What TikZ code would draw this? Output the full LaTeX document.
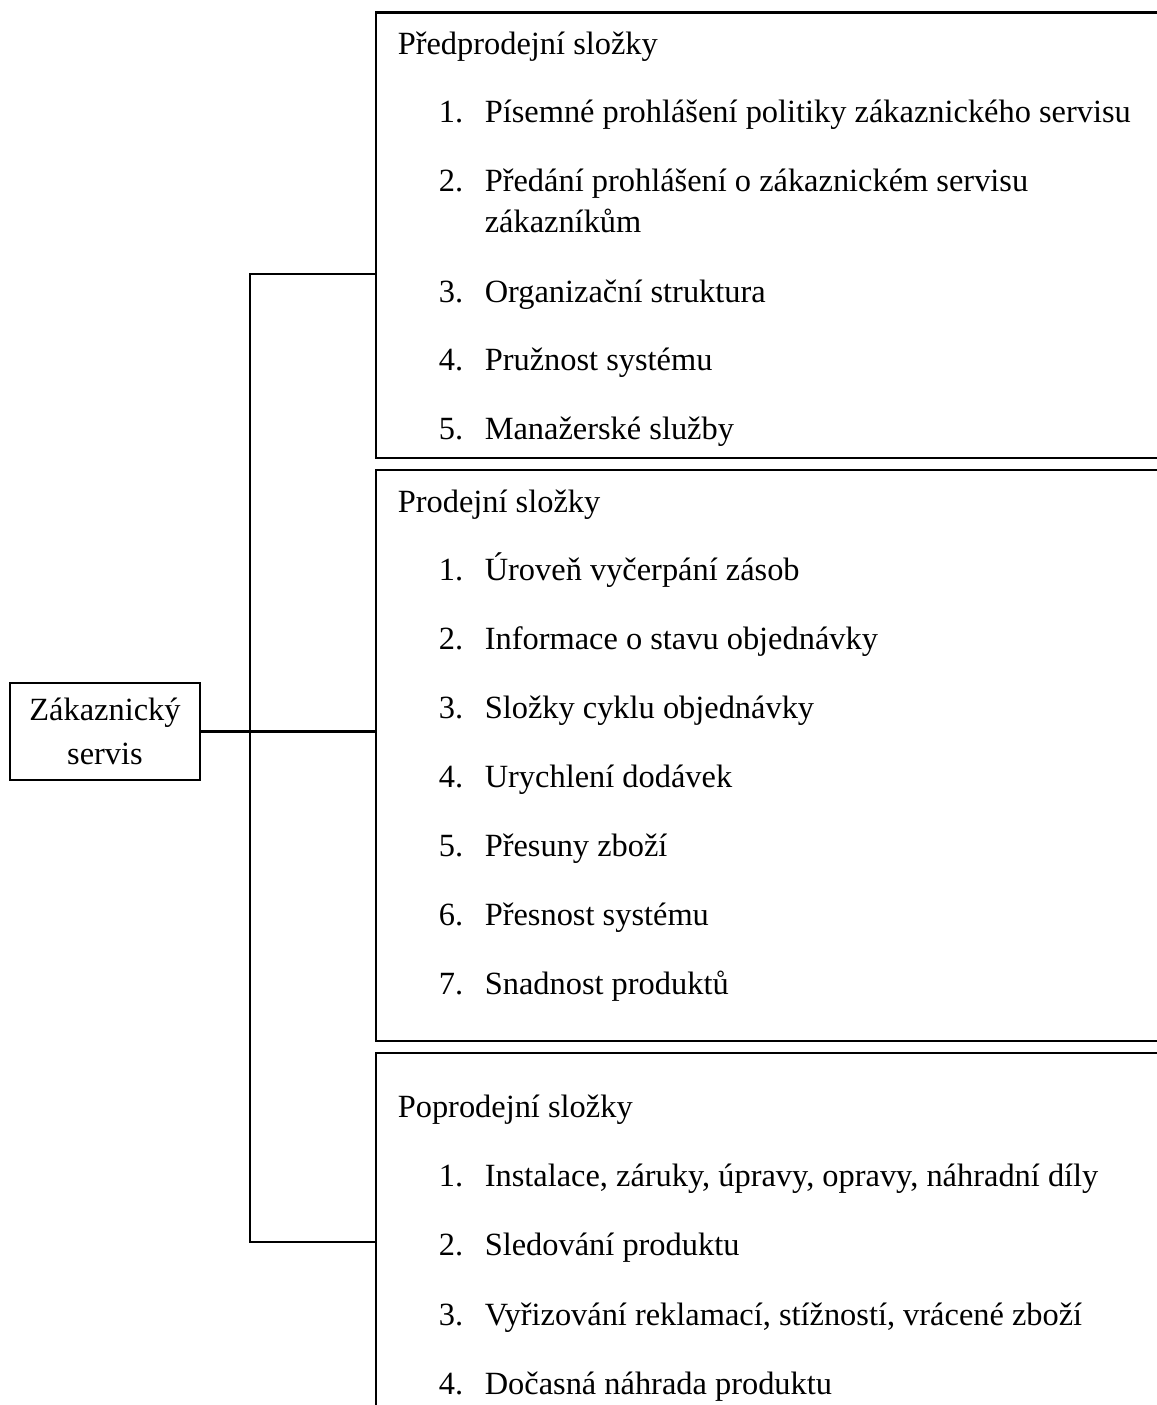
\documentclass[tikz,border=0pt]{standalone}
\usepackage{fontspec}
\setmainfont{Liberation Serif}
\begin{document}
\begin{tikzpicture}[x=0.25pt,y=-0.25pt,
  box/.style={draw, line width=0.6pt, inner sep=0pt},
  conn/.style={line width=0.6pt},
  txt/.style={anchor=base west, inner sep=0pt, font=\fontsize{8.1}{10}\selectfont}]
\useasboundingbox (0,0) rectangle (1157,1405);
\clip (0,0) rectangle (1157,1405);
% boxes
\node[box, minimum width=206pt, minimum height=111.4pt] (b1) at (788,235.25) {};
\node[box, minimum width=206pt, minimum height=142.75pt] (b2) at (788,755.5) {};
\node[box, minimum width=206pt, minimum height=111.75pt] (b3) at (788,1276.5) {};
\node[box, minimum width=47.5pt, minimum height=24.25pt, align=center,
      font=\fontsize{8.1}{11}\selectfont] (zs) at (105,731.5) {Zákaznický\\servis};
% connectors
\coordinate (j1) at (250,274);
\coordinate (j3) at (250,1242);
\draw[conn] (zs.east) -- (zs.east -| b2.west);
\draw[conn] (j1 -| b1.west) -- (j1) -- (j3) -- (j3 -| b3.west);
% box 1
\node[txt] (h1) at (397,54) {Předprodejní složky};
\node[txt] (n11) at (438,122) {1.};
\node[txt] (t11) at (484,122) {Písemné prohlášení politiky zákaznického servisu};
\node[txt] (n12) at (438,191) {2.};
\node[txt] (t12) at (484,191) {Předání prohlášení o zákaznickém servisu};
\node[txt] (t12b) at (484,232) {zákazníkům};
\node[txt] (n13) at (438,302) {3.};
\node[txt] (t13) at (484,302) {Organizační struktura};
\node[txt] (n14) at (438,370) {4.};
\node[txt] (t14) at (484,370) {Pružnost systému};
\node[txt] (n15) at (438,439) {5.};
\node[txt] (t15) at (484,439) {Manažerské služby};
% box 2
\node[txt] (h2) at (397,512) {Prodejní složky};
\node[txt] (n21) at (438,580) {1.};
\node[txt] (t21) at (484,580) {Úroveň vyčerpání zásob};
\node[txt] (n22) at (438,649) {2.};
\node[txt] (t22) at (484,649) {Informace o stavu objednávky};
\node[txt] (n23) at (438,718) {3.};
\node[txt] (t23) at (484,718) {Složky cyklu objednávky};
\node[txt] (n24) at (438,787) {4.};
\node[txt] (t24) at (484,787) {Urychlení dodávek};
\node[txt] (n25) at (438,856) {5.};
\node[txt] (t25) at (484,856) {Přesuny zboží};
\node[txt] (n26) at (438,925) {6.};
\node[txt] (t26) at (484,925) {Přesnost systému};
\node[txt] (n27) at (438,994) {7.};
\node[txt] (t27) at (484,994) {Snadnost produktů};
% box 3
\node[txt] (h3) at (397,1117) {Poprodejní složky};
\node[txt] (n31) at (438,1186) {1.};
\node[txt] (t31) at (484,1186) {Instalace, záruky, úpravy, opravy, náhradní díly};
\node[txt] (n32) at (438,1255) {2.};
\node[txt] (t32) at (484,1255) {Sledování produktu};
\node[txt] (n33) at (438,1325) {3.};
\node[txt] (t33) at (484,1325) {Vyřizování reklamací, stížností, vrácené zboží};
\node[txt] (n34) at (438,1394) {4.};
\node[txt] (t34) at (484,1394) {Dočasná náhrada produktu};
\end{tikzpicture}
\end{document}
